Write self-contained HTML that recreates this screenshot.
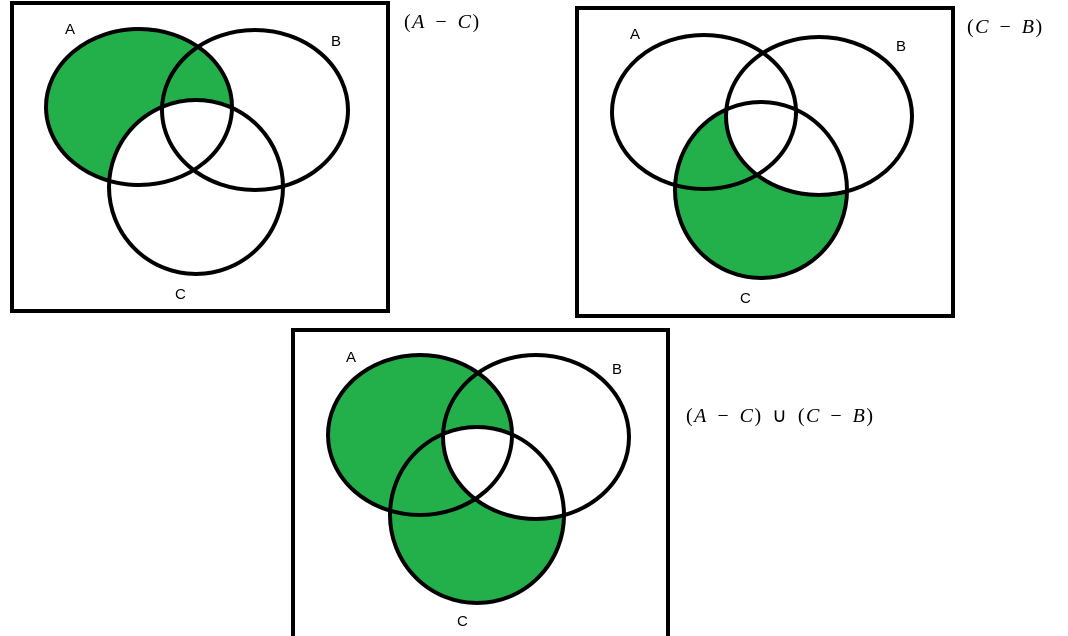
<!DOCTYPE html>
<html><head><style>
html,body{margin:0;padding:0;background:#fff;width:1068px;height:636px;overflow:hidden}
svg{display:block}
.lbl{font-family:"Liberation Sans",sans-serif;font-size:15px;fill:#000}
.m{font-family:"Liberation Serif",serif;font-size:20px;fill:#000;letter-spacing:1.5px;word-spacing:3px}
</style></head><body>
<svg width="1068" height="636" viewBox="0 0 1068 636" xmlns="http://www.w3.org/2000/svg">
<defs>
<clipPath id="c2"><ellipse cx="761" cy="190" rx="86" ry="88"/></clipPath>
<clipPath id="c3"><ellipse cx="477" cy="515" rx="87" ry="88"/></clipPath>
</defs>
<g fill="none" stroke="#000" stroke-width="4">
<rect x="12" y="3" width="376" height="308"/>
<rect x="577" y="8" width="376" height="308"/>
<rect x="293" y="330" width="375" height="312"/>
</g>
<ellipse cx="139" cy="107" rx="93" ry="78" fill="#23b04b"/>
<ellipse cx="196" cy="187" rx="87" ry="87" fill="#fff"/>
<g fill="none" stroke="#000" stroke-width="4">
<ellipse cx="139" cy="107" rx="93" ry="78"/>
<ellipse cx="255" cy="110" rx="93" ry="80"/>
<ellipse cx="196" cy="187" rx="87" ry="87"/>
</g>
<ellipse cx="761" cy="190" rx="86" ry="88" fill="#23b04b"/>
<ellipse cx="819" cy="116" rx="93" ry="79" fill="#fff" clip-path="url(#c2)"/>
<g fill="none" stroke="#000" stroke-width="4">
<ellipse cx="704" cy="112" rx="92" ry="77"/>
<ellipse cx="819" cy="116" rx="93" ry="79"/>
<ellipse cx="761" cy="190" rx="86" ry="88"/>
</g>
<ellipse cx="420" cy="435" rx="92" ry="80" fill="#23b04b"/>
<ellipse cx="477" cy="515" rx="87" ry="88" fill="#23b04b"/>
<ellipse cx="536" cy="437" rx="93" ry="82" fill="#fff" clip-path="url(#c3)"/>
<g fill="none" stroke="#000" stroke-width="4">
<ellipse cx="420" cy="435" rx="92" ry="80"/>
<ellipse cx="536" cy="437" rx="93" ry="82"/>
<ellipse cx="477" cy="515" rx="87" ry="88"/>
</g>
<text class="lbl" x="65" y="34">A</text>
<text class="lbl" x="331" y="46">B</text>
<text class="lbl" x="175" y="299">C</text>
<text class="lbl" x="630" y="39">A</text>
<text class="lbl" x="896" y="51">B</text>
<text class="lbl" x="740" y="303">C</text>
<text class="lbl" x="346" y="362">A</text>
<text class="lbl" x="612" y="374">B</text>
<text class="lbl" x="457" y="626">C</text>
<text class="m" x="404" y="28">(<tspan font-style="italic">A</tspan> − <tspan font-style="italic">C</tspan>)</text>
<text class="m" x="967" y="33">(<tspan font-style="italic">C</tspan> − <tspan font-style="italic">B</tspan>)</text>
<text class="m" x="686" y="422">(<tspan font-style="italic">A</tspan> − <tspan font-style="italic">C</tspan>) ∪ (<tspan font-style="italic">C</tspan> − <tspan font-style="italic">B</tspan>)</text>
</svg>
</body></html>
